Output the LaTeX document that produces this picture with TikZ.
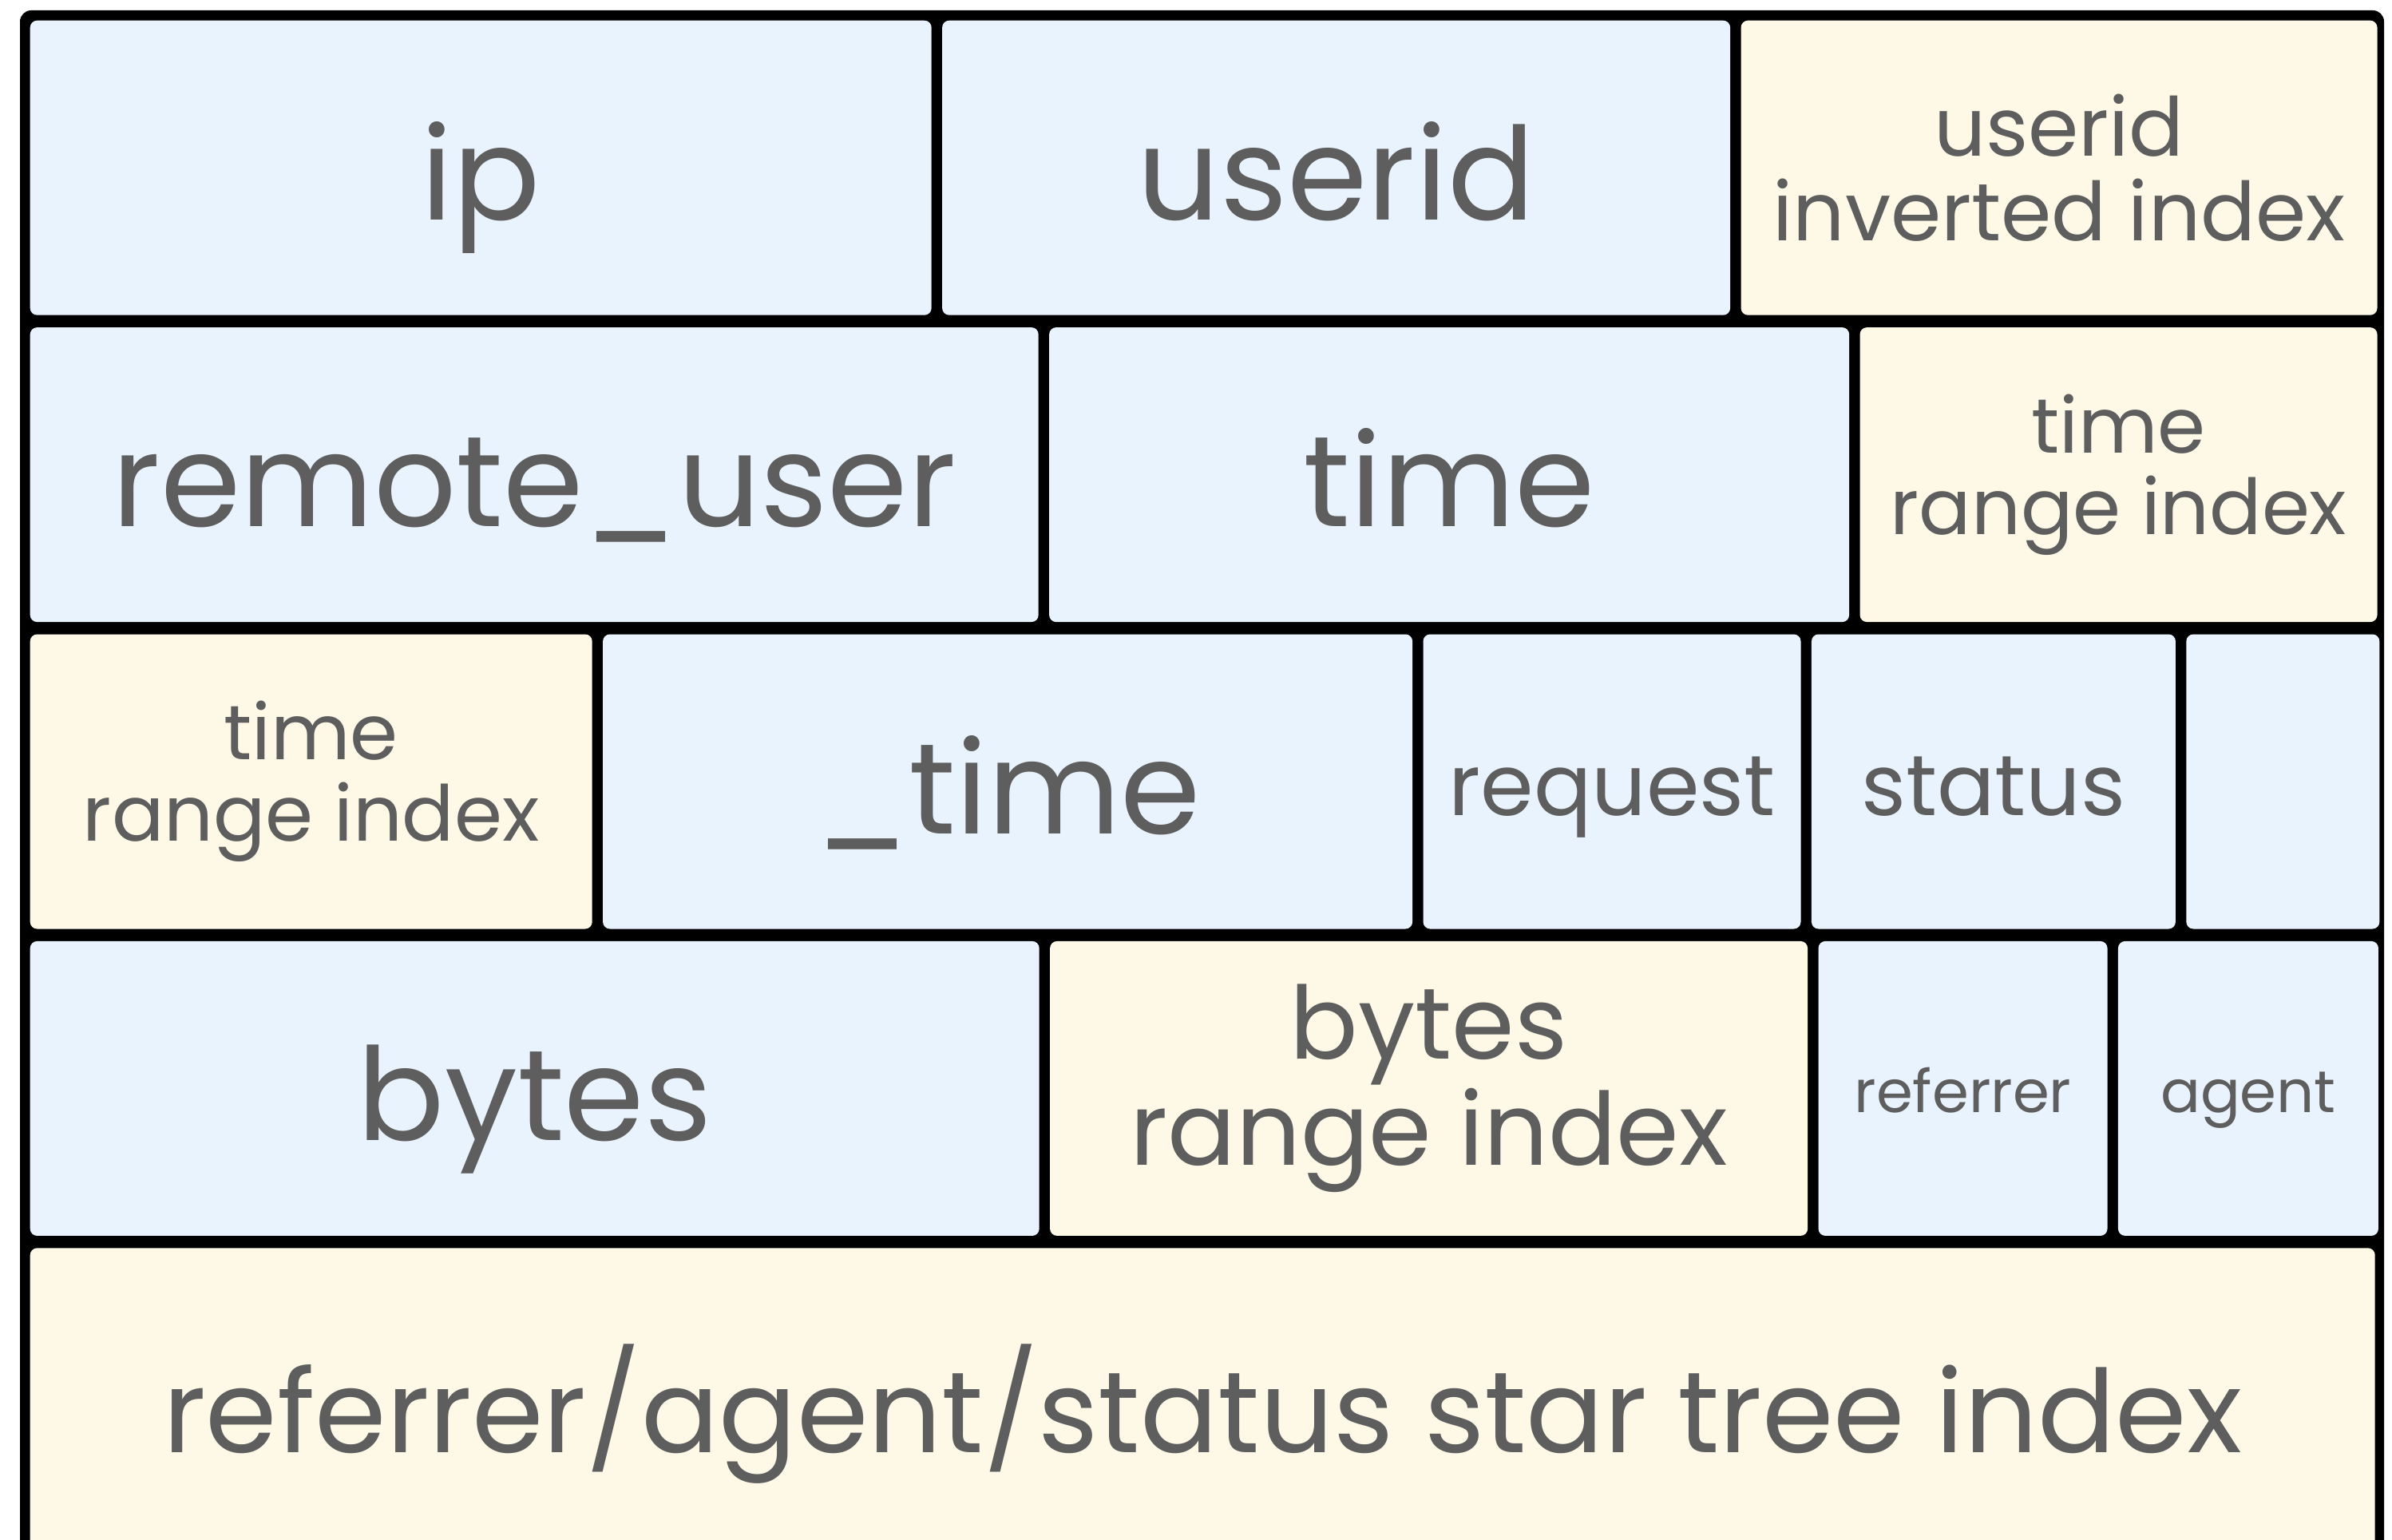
\documentclass[tikz,border=0pt]{standalone}
\usepackage{fontspec}
\setmainfont{Poppins}
\usetikzlibrary{positioning}
\definecolor{colblue}{HTML}{E9F3FE}
\definecolor{colcream}{HTML}{FEF8E6}
\definecolor{txtgray}{HTML}{5E5E5E}

\begin{document}
\begin{tikzpicture}[
  node distance=0.12cm,
  cell/.style={rounded corners=2.5pt, inner sep=0pt, align=center, text=txtgray, minimum height=3.69cm, anchor=north west},
  col/.style={cell, fill=colblue},
  idx/.style={cell, fill=colcream},
  bigfont/.style={font=\fontsize{46}{48}\selectfont, text height=37pt, text depth=0pt},
  wordfont/.style={font=\fontsize{30.5}{32}\selectfont, text height=24pt, text depth=0pt},
  smallfont/.style={font=\fontsize{21}{22}\selectfont, text height=17pt, text depth=0pt},
  starfont/.style={font=\fontsize{41}{43}\selectfont, text height=26pt, text depth=0pt},
  invfont/.style={font=\fontsize{29}{30}\selectfont},
  rangefont/.style={font=\fontsize{27.5}{29}\selectfont},
  largefont/.style={font=\fontsize{36}{33}\selectfont}
]
\clip (0,0) rectangle (29.96,-19.29);

% frame
\fill[black, rounded corners=4pt] (0.25,-0.13) rectangle (29.86,-20);

% row 1
\node[col, bigfont, minimum width=11.29cm] (ip) at (0.37,-0.25) {ip};
\node[col, bigfont, minimum width=9.87cm, right=of ip] (userid) {userid};
\node[idx, invfont, minimum width=7.97cm, right=of userid] (useridx) {userid\\inverted index};

% row 2
\node[col, bigfont, minimum width=12.63cm, below=0.14cm of ip.south west, anchor=north west] (ruser) {remote\_user};
\node[col, bigfont, minimum width=10.02cm, right=of ruser] (time) {time};
\node[idx, rangefont, minimum width=6.48cm, right=of time] (timeidx) {time\\range index};

% row 3
\node[idx, rangefont, minimum width=7.04cm, below=0.14cm of ruser.south west, anchor=north west] (utimeidx) {time\\range index};
\node[col, bigfont, minimum width=10.14cm, right=of utimeidx] (utime) {\_time};
\node[col, wordfont, minimum width=4.73cm, right=of utime] (request) {request};
\node[col, wordfont, minimum width=4.56cm, right=of request] (status) {status};
\node[col, minimum width=2.42cm, right=of status] (blank) {};

% row 4
\node[col, bigfont, minimum width=12.64cm, below=0.14cm of utimeidx.south west, anchor=north west] (bytes) {bytes};
\node[idx, largefont, minimum width=9.49cm, right=of bytes] (bytesidx) {bytes\\range index};
\node[col, smallfont, minimum width=3.62cm, right=of bytesidx] (referrer) {referrer};
\node[col, smallfont, minimum width=3.26cm, right=of referrer] (agent) {agent};

% row 5
\node[idx, starfont, minimum width=29.37cm, minimum height=4.2cm, below=0.14cm of bytes.south west, anchor=north west] (star) {referrer/agent/status star tree index};

\end{tikzpicture}
\end{document}
